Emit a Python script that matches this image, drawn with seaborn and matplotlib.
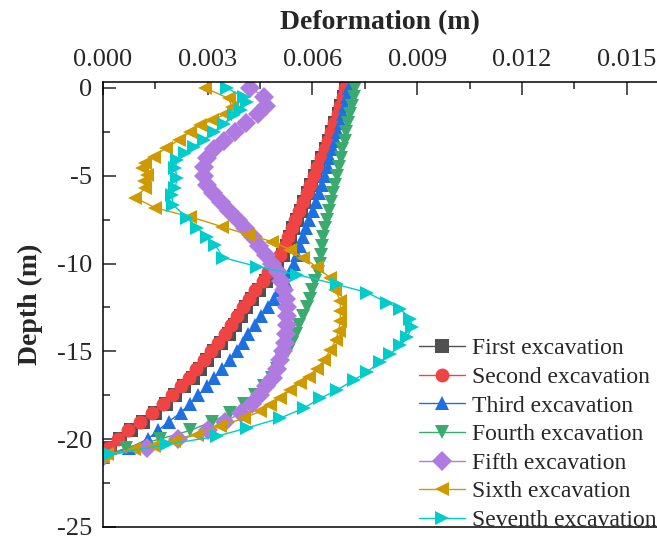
import pandas as pd
import matplotlib
matplotlib.use("Agg")
import matplotlib.pyplot as plt
from matplotlib.ticker import MultipleLocator, FormatStrFormatter
import seaborn as sns

# depth of the monitoring points (m), shared by the first five stages
depth = [0, -0.5, -1, -1.5, -2, -2.5, -3, -3.5, -4, -4.5, -5, -5.5, -6, -6.5, -7,
         -7.5, -8, -8.5, -9, -9.5, -10, -10.5, -11, -11.5, -12, -12.5, -13, -13.5,
         -14, -14.5, -15, -15.5, -16, -16.5, -17, -17.5, -18, -18.5, -19, -19.5,
         -20, -20.5, -21]

# deformation in mm (divided by 1000 below)
first = [6.97, 6.91, 6.83, 6.75, 6.65, 6.57, 6.48, 6.38, 6.27, 6.16, 6.06, 5.96, 5.86,
         5.76, 5.66, 5.55, 5.45, 5.35, 5.26, 5.15, 4.99, 4.84, 4.67, 4.46, 4.28, 4.11,
         3.94, 3.77, 3.60, 3.39, 3.19, 2.99, 2.78, 2.57, 2.33, 2.07, 1.80, 1.49, 1.15,
         0.80, 0.48, 0.20, 0.0]
second = [6.94, 6.88, 6.80, 6.72, 6.62, 6.54, 6.45, 6.35, 6.24, 6.13, 6.03, 5.93, 5.83,
          5.72, 5.62, 5.51, 5.40, 5.30, 5.20, 5.08, 4.90, 4.74, 4.57, 4.35, 4.17, 4.00,
          3.83, 3.66, 3.49, 3.28, 3.08, 2.88, 2.67, 2.47, 2.23, 1.97, 1.71, 1.40, 1.07,
          0.72, 0.42, 0.17, 0.0]
third = [7.05, 7.00, 6.94, 6.88, 6.81, 6.74, 6.66, 6.58, 6.51, 6.45, 6.37, 6.28, 6.19,
         6.10, 6.01, 5.91, 5.82, 5.72, 5.63, 5.56, 5.47, 5.35, 5.21, 5.05, 4.89, 4.72,
         4.53, 4.34, 4.16, 4.01, 3.85, 3.65, 3.40, 3.18, 2.98, 2.73, 2.48, 2.22, 1.88,
         1.58, 1.28, 0.75, 0.0]
fourth = [7.23, 7.18, 7.13, 7.08, 7.03, 6.97, 6.92, 6.86, 6.81, 6.75, 6.70, 6.64, 6.58,
          6.52, 6.47, 6.41, 6.35, 6.30, 6.26, 6.24, 6.22, 6.15, 6.07, 6.00, 5.93, 5.83,
          5.73, 5.62, 5.52, 5.42, 5.30, 5.14, 4.99, 4.83, 4.62, 4.35, 4.03, 3.65, 3.12,
          2.50, 1.62, 0.65, 0.0]
fifth = [4.22, 4.62, 4.68, 4.45, 4.10, 3.78, 3.47, 3.18, 2.98, 2.90, 2.90, 2.98, 3.15,
         3.38, 3.62, 3.86, 4.08, 4.30, 4.48, 4.66, 4.84, 5.00, 5.10, 5.18, 5.23, 5.26,
         5.27, 5.27, 5.25, 5.21, 5.15, 5.08, 4.99, 4.87, 4.68, 4.50, 4.28, 3.95, 3.50,
         3.00, 2.15, 1.25, 0.0]

sixth_depth = [0, -0.6, -1.1, -1.5, -1.85, -2.1, -2.5, -2.97, -3.44, -3.91, -4.29, -4.57,
               -4.94, -5.32, -5.69, -6.26, -6.82, -7.33, -7.9, -8.35, -8.75, -9.2, -9.66,
               -10.2, -10.8, -11.48, -12.12, -12.69, -13.25, -13.82, -14.38, -14.94,
               -15.51, -15.98, -16.45, -16.82, -17.2, -17.67, -18.05, -18.42, -18.8,
               -19.27, -19.74, -20.11, -20.39, -20.58, -20.86, -21]
sixth = [2.93, 3.60, 3.70, 3.50, 3.12, 2.79, 2.50, 2.17, 1.79, 1.45, 1.21, 1.12, 1.26,
         1.16, 1.21, 0.93, 1.49, 2.49, 3.41, 4.15, 4.84, 5.36, 5.73, 6.13, 6.50, 6.65,
         6.80, 6.80, 6.80, 6.75, 6.66, 6.51, 6.32, 6.13, 5.89, 5.65, 5.37, 5.08, 4.79,
         4.51, 4.03, 3.36, 2.69, 2.02, 1.45, 0.88, 0.11, 0.0]

seventh_depth = [0, -0.53, -0.8, -1.28, -1.55, -2.03, -2.5, -2.97, -3.35, -3.72, -4.1,
                 -4.57, -5.13, -5.7, -6.07, -6.65, -7.39, -7.95, -8.47, -8.92, -9.66,
                 -10.17, -10.63, -11.19, -11.65, -12.22, -12.59, -13.16, -13.63, -14.19,
                 -14.66, -15.13, -15.6, -16.17, -16.64, -17.2, -17.67, -18.23, -18.8,
                 -19.36, -19.83, -20.3, -20.86]
seventh = [3.55, 4.03, 4.13, 3.94, 3.74, 3.46, 3.17, 2.88, 2.60, 2.36, 2.12, 2.07, 2.12,
           2.07, 1.98, 2.00, 2.41, 2.69, 2.98, 3.21, 3.44, 4.41, 5.56, 6.70, 7.56, 8.14,
           8.52, 8.80, 8.85, 8.71, 8.52, 8.23, 7.94, 7.56, 7.18, 6.70, 6.23, 5.75, 5.08,
           4.13, 3.27, 1.83, 0.21]

stages = ["First excavation", "Second excavation", "Third excavation",
          "Fourth excavation", "Fifth excavation", "Sixth excavation",
          "Seventh excavation"]
colors = ["#505050", "#F04444", "#1E6FE0", "#3BAA6E", "#B07BE0", "#CF9A00", "#00CCCC"]
markers = ["s", "o", "^", "v", "D", "<", ">"]

series = [(depth, first), (depth, second), (depth, third), (depth, fourth),
          (depth, fifth), (sixth_depth, sixth), (seventh_depth, seventh)]
frames = []
for name, (d, v) in zip(stages, series):
    frames.append(pd.DataFrame({"Deformation": [x / 1000 for x in v],
                                "Depth": d, "Stage": name}))
df = pd.concat(frames, ignore_index=True)

sns.set_theme(style="ticks")
plt.rcParams["font.family"] = ["Liberation Serif", "DejaVu Serif"]
plt.rcParams["axes.unicode_minus"] = False

fig = plt.figure(figsize=(6.57, 5.39), dpi=100)
ax = fig.add_axes([0.1568, 0.0223, 0.8432, 0.8256])

sns.lineplot(data=df, x="Deformation", y="Depth", hue="Stage", style="Stage",
             hue_order=stages, style_order=stages,
             palette=dict(zip(stages, colors)), markers=dict(zip(stages, markers)),
             dashes=False, sort=False, estimator=None, linewidth=1.0,
             markersize=10, markeredgewidth=0, ax=ax)

ax.set_xlim(0, 0.01587)
ax.set_ylim(-25, 0.34)
ax.xaxis.tick_top()
ax.xaxis.set_label_position("top")
ax.xaxis.set_major_locator(MultipleLocator(0.003))
ax.xaxis.set_minor_locator(MultipleLocator(0.0015))
ax.xaxis.set_major_formatter(FormatStrFormatter("%.3f"))
ax.yaxis.set_major_locator(MultipleLocator(5))
ax.yaxis.set_minor_locator(MultipleLocator(2.5))
ax.tick_params(which="both", direction="in", width=1.1, labelsize=19, pad=8,
               top=True, bottom=False, left=True, right=False,
               labeltop=True, labelbottom=False)
ax.tick_params(which="major", length=9)
ax.tick_params(which="minor", length=5)
ax.set_xlabel("Deformation (m)", fontsize=20, fontweight="bold", labelpad=14)
ax.set_ylabel("Depth (m)", fontsize=20, fontweight="bold", labelpad=10)
ax.spines["right"].set_visible(False)
for s in ["left", "top", "bottom"]:
    ax.spines[s].set_linewidth(1.1)
    ax.spines[s].set_color("black")

handles, labels = ax.get_legend_handles_labels()
ax.legend(handles, labels, loc="lower left", bbox_to_anchor=(419 / 657, 8 / 539),
          bbox_transform=fig.transFigure, frameon=False, fontsize=17,
          handlelength=1.95, handletextpad=0.28, labelspacing=0.3,
          borderpad=0, borderaxespad=0)

fig.savefig("out.png", dpi=100)
